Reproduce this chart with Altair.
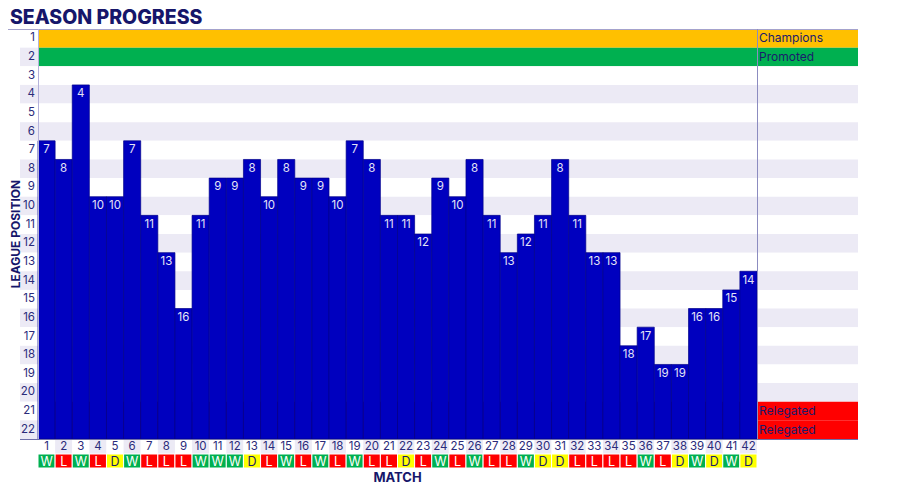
import altair as alt
import pandas as pd

# ---- data ----
matches = list(range(1, 43))
positions = [7, 8, 4, 10, 10, 7, 11, 13, 16, 11, 9, 9, 8, 10, 8, 9, 9, 10, 7, 8, 11,
             11, 12, 9, 10, 8, 11, 13, 12, 11, 8, 11, 13, 13, 18, 17, 19, 19, 16, 16, 15, 14]
results = list("WLWLDWLLLWWWDLW" "LWLWLLDLWLWLLWDD" "LLLLWLDWDWD")
league_rows = list(range(1, 23))
zone_rows = [1, 2, 21, 22]
zone_names = ["Champions", "Promoted", "Relegated", "Relegated"]

FONT = "Inter"
NAVY = "#1B1B6B"
LAV = "#ECEAF5"
BLUE = "#0000BF"

W, H = 719, 410
RIGHT_END = 820  # end of the zone column (pixels in view coords)

zone_map = dict(zip(zone_rows, zone_names))
rows_df = pd.DataFrame({"row": league_rows})
rows_df["band"] = [zone_map.get(r, "even" if r % 2 == 0 else "odd") for r in league_rows]
rows_df["side"] = ["even" if r % 2 == 0 else "odd" for r in league_rows]

zones_df = pd.DataFrame({"row": zone_rows, "zone": zone_names})
match_df = pd.DataFrame({"match": matches, "pos": positions, "res": results})
match_df["parity"] = ["even" if m % 2 == 0 else "odd" for m in matches]

xs = alt.Scale(domain=[0.5, 42.5], nice=False, zero=False)
ys = alt.Scale(domain=[0.5, 22.5], nice=False, zero=False, reverse=True)

band_scale = alt.Scale(domain=["Champions", "Promoted", "Relegated", "even", "odd"],
                       range=["#FFC000", "#00B050", "#FF0000", LAV, "#FFFFFF"])
parity_scale = alt.Scale(domain=["even", "odd"], range=[LAV, "#FFFFFF"])

rows_base = alt.Chart(rows_df).transform_calculate(
    y0="datum.row - 0.5", y1="datum.row + 0.5")

# bands in the label column
side_bands = rows_base.mark_rect().encode(
    x=alt.value(-18), x2=alt.value(0),
    y=alt.Y("y0:Q", scale=ys, axis=None), y2="y1:Q",
    fill=alt.Fill("side:N", scale=parity_scale, legend=None))

# bands across the plot and zone column
plot_bands = rows_base.mark_rect().encode(
    x=alt.value(0), x2=alt.value(RIGHT_END),
    y=alt.Y("y0:Q", scale=ys, axis=None), y2="y1:Q",
    fill=alt.Fill("band:N", scale=band_scale, legend=None))

# y tick labels
y_labels = alt.Chart(rows_df).mark_text(
    align="right", baseline="middle", font=FONT, fontSize=11.5, color="#2A2A7A").encode(
    x=alt.value(-3), y=alt.Y("row:Q", scale=ys, axis=None), text="row:N")

mbase = alt.Chart(match_df).transform_calculate(
    x0="datum.match - 0.5", x1="datum.match + 0.5",
    y0="datum.pos - 0.5", y1="22.5")

bars = mbase.mark_rect(fill=BLUE, stroke="#00008A", strokeWidth=0.7).encode(
    x=alt.X("x0:Q", scale=xs, axis=None), x2="x1:Q",
    y=alt.Y("y0:Q", scale=ys, axis=None), y2="y1:Q")

bar_labels = alt.Chart(match_df).mark_text(
    baseline="middle", font=FONT, fontSize=11.5, color="#E4E4F6").encode(
    x=alt.X("match:Q", scale=xs, axis=None),
    y=alt.Y("pos:Q", scale=ys, axis=None), text="pos:N")

# x number row
num_cells = mbase.mark_rect().encode(
    x=alt.X("x0:Q", scale=xs, axis=None), x2="x1:Q",
    y=alt.value(H + 1), y2=alt.value(H + 15),
    fill=alt.Fill("parity:N", scale=parity_scale, legend=None))
num_text = alt.Chart(match_df).mark_text(
    baseline="middle", font=FONT, fontSize=11.5, color="#2A2A7A").encode(
    x=alt.X("match:Q", scale=xs, axis=None), y=alt.value(H + 8), text="match:N")

res_cells = mbase.mark_rect(stroke="white", strokeWidth=1).encode(
    x=alt.X("x0:Q", scale=xs, axis=None), x2="x1:Q",
    y=alt.value(H + 15), y2=alt.value(H + 29),
    fill=alt.Fill("res:N", scale=alt.Scale(domain=["W", "L", "D"],
                                           range=["#00B050", "#FF0000", "#FFFF00"]), legend=None))
res_text = alt.Chart(match_df).mark_text(
    baseline="middle", font=FONT, fontSize=12.5).encode(
    x=alt.X("match:Q", scale=xs, axis=None), y=alt.value(H + 22.5), text="res:N",
    color=alt.Color("res:N", scale=alt.Scale(domain=["W", "L", "D"],
                                             range=["#FFFFFF", "#FFFFFF", NAVY]), legend=None))

zone_text = alt.Chart(zones_df).mark_text(
    align="left", baseline="middle", font=FONT, fontSize=12, color=NAVY).encode(
    x=alt.value(W + 2), y=alt.Y("row:Q", scale=ys, axis=None), text="zone:N")

# frame lines
line_df = pd.DataFrame({"k": [0]})
top_line = alt.Chart(line_df).mark_rule(color="#A4A2CC", strokeWidth=1).encode(
    x=alt.value(-30), x2=alt.value(RIGHT_END), y=alt.value(0.5))
bottom_line = alt.Chart(line_df).mark_rule(color="#6E6EA8", strokeWidth=1).encode(
    x=alt.value(-18), x2=alt.value(RIGHT_END), y=alt.value(H + 0.5))
left_line = alt.Chart(line_df).mark_rule(color="#B4B2DA", strokeWidth=1).encode(
    x=alt.value(0.5), y=alt.value(0), y2=alt.value(H))
right_line = alt.Chart(line_df).mark_rule(color="#8C8CC0", strokeWidth=1).encode(
    x=alt.value(W + 0.5), y=alt.value(0), y2=alt.value(H))

texts_df = pd.DataFrame({
    "t": ["SEASON PROGRESS", "LEAGUE POSITION", "MATCH"]})
title = alt.Chart(texts_df).transform_filter("datum.t == 'SEASON PROGRESS'").mark_text(
    align="left", baseline="middle", font=FONT, fontSize=19.5, fontWeight=800,
    color="#16166A").encode(x=alt.value(-28), y=alt.value(-11), text="t:N")
ytitle = alt.Chart(texts_df).transform_filter("datum.t == 'LEAGUE POSITION'").mark_text(
    align="center", baseline="middle", font=FONT, fontSize=12, fontWeight="bold",
    angle=270, color="#16166A").encode(x=alt.value(-22), y=alt.value(H / 2), text="t:N")
xtitle = alt.Chart(texts_df).transform_filter("datum.t == 'MATCH'").mark_text(
    align="center", baseline="middle", font=FONT, fontSize=13, fontWeight="bold",
    color="#16166A").encode(x=alt.value(W / 2), y=alt.value(H + 39), text="t:N")

chart = alt.layer(
    side_bands, plot_bands, y_labels, bars, bar_labels,
    num_cells, num_text, res_cells, res_text, zone_text,
    top_line, bottom_line, left_line, right_line, title, ytitle, xtitle
).resolve_scale(fill="independent", color="independent").properties(
    width=W, height=H,
    autosize=alt.AutoSizeParams(type="none"),
    padding={"left": 30, "top": 21, "right": 135, "bottom": 48},
).configure_view(stroke=None)

chart.save("out.html", embed_options={"renderer": "svg", "actions": False})
